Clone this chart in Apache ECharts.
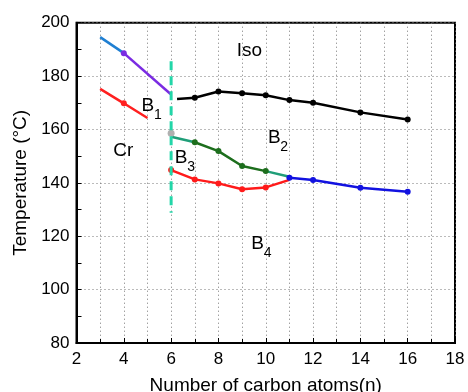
<!DOCTYPE html>
<html><head><meta charset="utf-8">
<script src="https://cdn.jsdelivr.net/npm/echarts@6/dist/echarts.min.js"></script>
<style>html,body{margin:0;padding:0;background:#fff}#c{width:468px;height:392px}</style>
</head><body><div id="c"></div>
<script>
// Data
const topBlue = [[3,194.6],[4,188.6]];
const topPurple = [[4,188.6],[6,173.1]];
const b1Red = [[3,175.2],[4,169.8],[5,164.3]];
const isoBlack = [[6.25,171.4],[7,171.9],[8,174.2],[9,173.6],[10,172.8],[11,171.0],[12,170.0],[14,166.4],[16,163.7]];
const grayPoint = [[6,158.6]];
const tealA = [[6,157.3],[7,155.2]];
const b2Green = [[7,155.2],[8,151.9],[9,146.3],[10,144.4]];
const tealB = [[10,144.4],[11,142.3]];
const b3Red = [[6,144.8],[7,141.3],[8,139.8],[9,137.6],[10,138.3],[11,141.1]];
const b4Blue = [[11,141.9],[12,141.1],[14,138.2],[16,136.7]];
const dashLine = [[6,185.6],[6,128.8]];
const regionLabels = [
  {pos:[9.31,190.1], main:'Iso', sub:''},
  {pos:[5.02,169.5], main:'B', sub:'1'},
  {pos:[3.98,152.9], main:'Cr', sub:''},
  {pos:[6.42,150.1], main:'B', sub:'3'},
  {pos:[10.36,157.5], main:'B', sub:'2'},
  {pos:[9.66,117.9], main:'B', sub:'4'}
];
const xTicks = {min:2, max:18, interval:2};
const yTicks = {min:80, max:200, interval:20};

const FONT = 'Liberation Sans, Arial, sans-serif';
function markAt(idx) {
  return (v, p) => (idx.indexOf(p.dataIndex) >= 0 ? 6 : 0);
}
function line(data, color, opts) {
  return Object.assign({
    type:'line', data:data, symbol:'circle', symbolSize:6, showAllSymbol:true,
    lineStyle:{color:color, width:2.5}, itemStyle:{color:color},
    animation:false, z:3
  }, opts||{});
}
const chart = echarts.init(document.getElementById('c'));
const series = [
  line(topBlue, '#1f7fd2', {symbol:'none'}),
  line(topPurple, '#7a2be2', {symbolSize:markAt([0])}),
  line(b1Red, '#ff2020', {symbolSize:markAt([1])}),
  line(isoBlack, '#000000', {symbolSize:markAt([1,2,3,4,5,6,7,8])}),
  line(grayPoint, '#b0b0b0', {symbolSize:7}),
  line(tealA, '#1f9e78', {symbol:'none'}),
  line(b2Green, '#1d6e1d'),
  line(tealB, '#1f9e78', {symbol:'none'}),
  line(b3Red, '#ff1a1a', {symbolSize:markAt([0,1,2,3,4])}),
  line(b4Blue, '#1212e0'),
  line(dashLine, '#22d6a8', {symbol:'none', lineStyle:{color:'#22d6a8', width:3, type:[9,6]}, z:4})
];
chart.setOption({
  animation:false,
  grid:{left:76.5, right:13, top:22.7, bottom:49, outerBoundsMode:'none', containLabel:false,
        show:true, borderColor:'#000', borderWidth:2},
  xAxis:{
    type:'value', min:xTicks.min, max:xTicks.max, interval:xTicks.interval,
    name:'Number of carbon atoms(n)', nameLocation:'middle', nameGap:33,
    nameTextStyle:{fontSize:19, fontFamily:FONT, color:'#000'},
    axisLine:{show:true, lineStyle:{color:'#000', width:2}},
    axisTick:{show:true, inside:true, length:5, lineStyle:{color:'#000'}},
    minorTick:{show:true, splitNumber:2, length:4, lineStyle:{color:'#000'}},
    axisLabel:{fontSize:17, fontFamily:FONT, color:'#000', margin:8},
    splitLine:{show:true, lineStyle:{color:'#777', type:[1,3], width:1}},
    minorSplitLine:{show:true, lineStyle:{color:'#777', type:[1,3], width:1}}
  },
  yAxis:{
    type:'value', min:yTicks.min, max:yTicks.max, interval:yTicks.interval,
    name:'Temperature (°C)', nameLocation:'middle', nameGap:38,
    nameTextStyle:{fontSize:19, fontFamily:FONT, color:'#000'},
    axisLine:{show:true, lineStyle:{color:'#000', width:2}},
    axisTick:{show:true, inside:true, length:5, lineStyle:{color:'#000'}},
    minorTick:{show:true, splitNumber:2, length:5, lineStyle:{color:'#000'}},
    axisLabel:{fontSize:17, fontFamily:FONT, color:'#000', margin:7},
    splitLine:{show:true, lineStyle:{color:'#777', type:[1,3], width:1}},
    minorSplitLine:{show:false}
  },
  series: series
});
// Region annotations placed through the chart's own coordinate conversion
const graphics = [];
regionLabels.forEach(l => {
  const pt = chart.convertToPixel({gridIndex:0}, l.pos);
  graphics.push({type:'text', x:pt[0], y:pt[1] + 2, z:10, silent:true,
    style:{text:l.main, fill:'#000', font:'19px ' + FONT, align:'center', verticalAlign:'middle'}});
  if (l.sub) {
    graphics.push({type:'text', x:pt[0] + 10, y:pt[1] + 11, z:10, silent:true,
      style:{text:l.sub, fill:'#000', font:'14px ' + FONT, align:'center', verticalAlign:'middle'}});
  }
});
chart.setOption({graphic: graphics});
</script></body></html>
